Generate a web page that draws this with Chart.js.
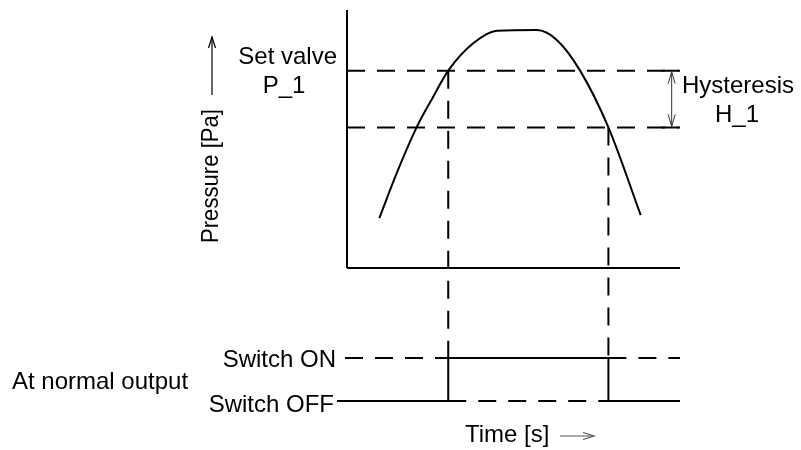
<!DOCTYPE html>
<html lang="en">
<head>
  <meta charset="UTF-8">
  <title>Pressure switch hysteresis</title>
  <script src="https://cdn.jsdelivr.net/npm/chart.js"></script>
  <style>
    body { margin: 0; background: #fff; }
    canvas { display: block; }
  </style>
</head>
<body>
  <canvas id="chart" width="801" height="450"></canvas>
  <script>
    // pressure curve (time in s, pressure in Pa, schematic units)
    const curveTime = [0.97, 1.49, 2.09, 2.59, 3.04, 3.79, 4.50, 5.70, 6.30, 7.00, 7.85, 8.82];
    const curvePressure = [1.93, 3.67, 5.45, 6.64, 7.65, 8.71, 9.20, 9.22, 8.84, 7.65, 5.45, 2.05];
    const timeRange = [0, 10];
    const pressureRange = [0, 10];

    const setValue = 7.65;      // P_1
    const hysteresis = 2.2;     // H_1
    const resetValue = setValue - hysteresis;
    const tOn = 3.04;
    const tOff = 7.85;

    // switch output: 0 = OFF, 1 = ON
    const OFF = 0, ON = 1;
    const outTime = [-0.3, tOn, tOn, tOff, tOff, 10];
    const outState = [OFF, OFF, ON, ON, OFF, OFF];
    const idleTime = [-0.06, tOn, null, tOn, tOff, null, tOff, 10];
    const idleState = [ON, ON, null, OFF, OFF, null, ON, ON];

    const labels = {
      yTitle: 'Pressure [Pa]',
      xTitle: 'Time [s]',
      set1: 'Set valve',
      set2: 'P_1',
      hyst1: 'Hysteresis',
      hyst2: 'H_1',
      on: 'Switch ON',
      off: 'Switch OFF',
      mode: 'At normal output'
    };

    const pts = (xs, ys) => xs.map((x, i) => (x === null ? { x: null, y: null } : { x: x, y: ys[i] }));
    const dash = [18, 12];
    const FONT = '24px "Liberation Sans", Arial, sans-serif';

    function line(data, extra) {
      return Object.assign({
        data: data,
        showLine: true,
        borderColor: '#000',
        borderWidth: 2,
        pointRadius: 0,
        fill: false,
        clip: false,
        spanGaps: false
      }, extra || {});
    }

    function arrowHead(ctx, x, y, dx, dy, len, half) {
      const nx = -dy, ny = dx;
      ctx.beginPath();
      ctx.moveTo(x - dx * len + nx * half, y - dy * len + ny * half);
      ctx.lineTo(x, y);
      ctx.lineTo(x - dx * len - nx * half, y - dy * len - ny * half);
      ctx.stroke();
    }

    const extras = {
      id: 'extras',
      afterDatasetsDraw(chart) {
        const ctx = chart.ctx;
        const xs = chart.scales.x, ys = chart.scales.y, y2 = chart.scales.y2;
        ctx.save();

        // connectors from thresholds down to the output
        ctx.strokeStyle = '#000';
        ctx.lineWidth = 2;
        ctx.setLineDash(dash);
        [[tOn, setValue], [tOff, resetValue]].forEach(([t, p]) => {
          ctx.beginPath();
          ctx.moveTo(xs.getPixelForValue(t), ys.getPixelForValue(p));
          ctx.lineTo(xs.getPixelForValue(t), y2.getPixelForValue(ON));
          ctx.stroke();
        });
        ctx.setLineDash([]);

        // hysteresis dimension
        const hx = xs.getPixelForValue(9.75);
        const hTop = ys.getPixelForValue(setValue), hBot = ys.getPixelForValue(resetValue);
        ctx.lineWidth = 2;
        ctx.beginPath();
        ctx.moveTo(hx - 10, hTop); ctx.lineTo(hx + 7, hTop);
        ctx.moveTo(hx - 10, hBot); ctx.lineTo(hx + 7, hBot);
        ctx.stroke();
        ctx.strokeStyle = '#333';
        ctx.lineWidth = 1;
        ctx.beginPath();
        ctx.moveTo(hx, hTop + 1); ctx.lineTo(hx, hBot - 1);
        ctx.stroke();
        arrowHead(ctx, hx, hTop + 1, 0, -1, 12, 3.5);
        arrowHead(ctx, hx, hBot - 1, 0, 1, 12, 3.5);

        // texts
        ctx.fillStyle = '#000';
        ctx.font = FONT;
        ctx.textBaseline = 'alphabetic';
        ctx.textAlign = 'right';
        ctx.fillText(labels.set1, 337, ys.getPixelForValue(setValue) - 7);
        ctx.fillText(labels.on, 336, y2.getPixelForValue(ON) + 9);
        ctx.fillText(labels.off, 334, y2.getPixelForValue(OFF) + 11);
        ctx.textAlign = 'center';
        ctx.fillText(labels.set2, 284, ys.getPixelForValue(setValue) + 22);
        ctx.fillText(labels.hyst2, 737, 122);
        ctx.textAlign = 'left';
        ctx.fillText(labels.hyst1, 682, 93, 115);
        ctx.fillText(labels.mode, 12, 389, 185);
        ctx.fillText(labels.xTitle, 465, 442, 87);

        // rotated y title
        ctx.save();
        ctx.translate(218, 176);
        ctx.rotate(-Math.PI / 2);
        ctx.textAlign = 'center';
        ctx.fillText(labels.yTitle, 0, 0, 134);
        ctx.restore();

        // direction arrows
        ctx.strokeStyle = '#000';
        ctx.lineWidth = 1.2;
        ctx.beginPath();
        ctx.moveTo(212, 95); ctx.lineTo(212, 37);
        ctx.stroke();
        arrowHead(ctx, 212, 37, 0, -1, 11, 3.5);
        ctx.strokeStyle = '#555';
        ctx.beginPath();
        ctx.moveTo(560, 436); ctx.lineTo(594, 436);
        ctx.stroke();
        arrowHead(ctx, 594, 436, 1, 0, 11, 3.5);

        ctx.restore();
      }
    };

    new Chart(document.getElementById('chart'), {
      type: 'scatter',
      data: {
        datasets: [
          line(pts([0, 0], pressureRange)),
          line(pts(timeRange, [0, 0])),
          line(pts(timeRange, [setValue, setValue]), { borderDash: dash }),
          line(pts(timeRange, [resetValue, resetValue]), { borderDash: dash }),
          line(pts(curveTime, curvePressure), { cubicInterpolationMode: 'monotone' }),
          line(pts(outTime, outState), { yAxisID: 'y2' }),
          line(pts(idleTime, idleState), { yAxisID: 'y2', borderDash: dash })
        ]
      },
      options: {
        responsive: false,
        animation: false,
        events: [],
        layout: { padding: { left: 347, right: 121, top: 10, bottom: 182 } },
        plugins: { legend: { display: false }, tooltip: { enabled: false } },
        scales: {
          x: { type: 'linear', min: timeRange[0], max: timeRange[1], display: false },
          y: { type: 'linear', min: pressureRange[0], max: pressureRange[1], display: false },
          y2: { type: 'linear', min: 3.093, max: 9.093, display: false }
        }
      },
      plugins: [extras]
    });
  </script>
</body>
</html>
